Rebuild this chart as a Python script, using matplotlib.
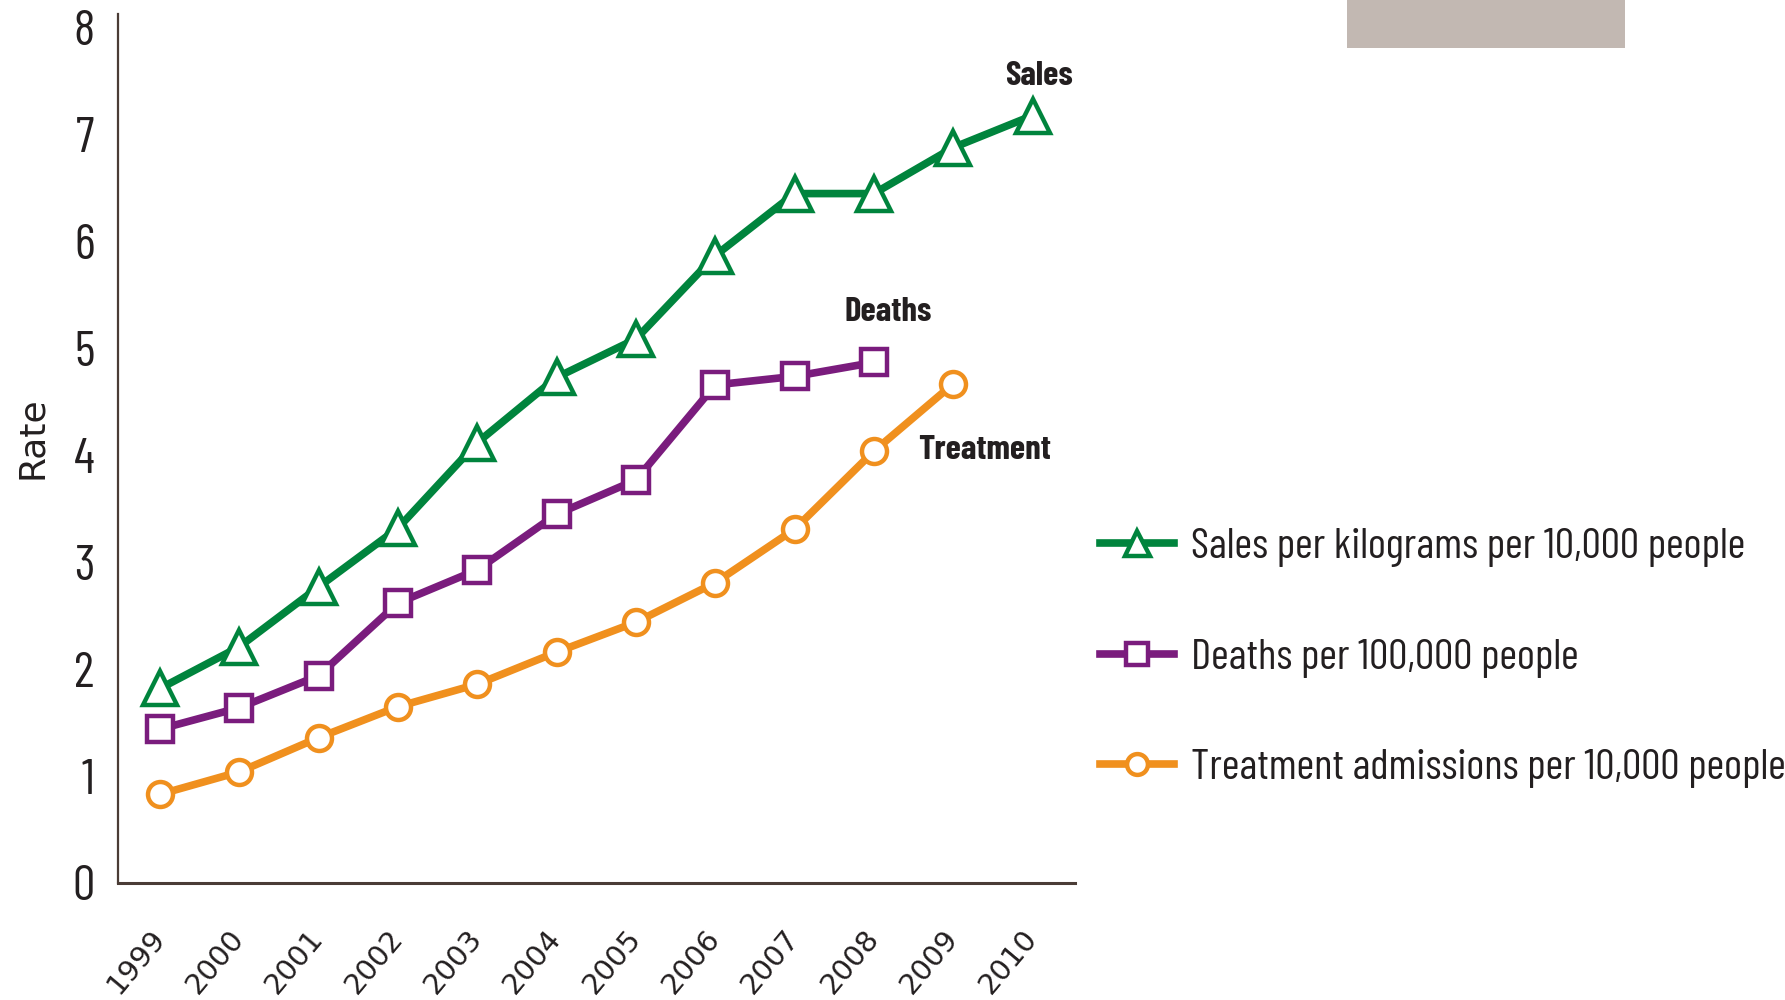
import matplotlib
matplotlib.use("Agg")
import matplotlib.pyplot as plt
from matplotlib import font_manager as fm
from matplotlib.patches import Rectangle
from matplotlib.lines import Line2D

# data
years = [1999, 2000, 2001, 2002, 2003, 2004, 2005, 2006, 2007, 2008, 2009, 2010]
sales = [1.82, 2.21, 2.77, 3.32, 4.12, 4.73, 5.09, 5.87, 6.45, 6.45, 6.88, 7.18]
death_years = years[:10]
deaths = [1.44, 1.64, 1.94, 2.62, 2.93, 3.45, 3.77, 4.66, 4.74, 4.87]
treat_years = years[:11]
treatment = [0.83, 1.04, 1.36, 1.65, 1.86, 2.16, 2.44, 2.81, 3.31, 4.04, 4.67]
yticks = [0, 1, 2, 3, 4, 5, 6, 7, 8]
legend_labels = ["Sales per kilograms per 10,000 people",
                 "Deaths per 100,000 people",
                 "Treatment admissions per 10,000 people"]

GREEN = "#00843d"
PURPLE = "#7a1c7d"
ORANGE = "#f0901e"
DARK = "#231f20"
SPINE = "#4a3c36"


def pick(families):
    for f in families:
        try:
            fm.findfont(fm.FontProperties(family=f), fallback_to_default=False)
            return f
        except ValueError:
            pass
    return None


# the original uses a condensed face; fall back to Liberation Sans, a bit smaller
cond = pick(["Barlow Condensed", "Archivo Narrow", "Asap Condensed"])
if cond:
    narrow = [cond, "DejaVu Sans"]
    k = 1.0
else:
    narrow = ["Liberation Sans", "DejaVu Sans"]
    k = 0.73

fig = plt.figure(figsize=(17.85, 10), dpi=100)
ax = fig.add_axes([0.0661, 0.117, 0.602 - 0.0661, 0.986 - 0.117])

lw = 5.5
mew = 3.2
ax.plot(years, sales, color=GREEN, lw=lw, marker="^", ms=25,
        mfc="white", mec=GREEN, mew=mew)
ax.plot(death_years, deaths, color=PURPLE, lw=lw, marker="s", ms=19,
        mfc="white", mec=PURPLE, mew=mew)
ax.plot(treat_years, treatment, color=ORANGE, lw=lw, marker="o", ms=18,
        mfc="white", mec=ORANGE, mew=mew)

# inline series labels
for x, y, s in [(2010.08, 7.55, "Sales"), (2008.18, 5.34, "Deaths"),
                (2009.40, 4.05, "Treatment")]:
    ax.text(x, y, s, ha="center", va="center", fontsize=25 * k,
            fontweight="bold", color=DARK, family=narrow)

ax.set_xlim(1998.47, 2010.53)
ax.set_ylim(0, 8.13)
ax.set_yticks(yticks)
ax.set_yticklabels([str(v) for v in yticks], family=narrow, fontsize=36 * k, color=DARK)
ax.set_xticks(years)
ax.set_xticklabels([str(y) for y in years], rotation=50, ha="right", va="center",
                   rotation_mode="anchor", fontsize=21, color=DARK)
ax.tick_params(axis="both", length=0)
ax.tick_params(axis="y", pad=17)
ax.tick_params(axis="x", pad=36)

ax.set_ylabel("Rate", fontsize=26, color=DARK, va="center")
ax.yaxis.set_label_coords(-0.09, 0.512)

for side in ["top", "right"]:
    ax.spines[side].set_visible(False)
ax.spines["left"].set_color(SPINE)
ax.spines["left"].set_linewidth(1.6)
ax.spines["bottom"].set_color(SPINE)
ax.spines["bottom"].set_linewidth(2.2)

# legend
handles = [
    Line2D([], [], color=GREEN, lw=lw, marker="^", ms=18, mfc="white", mec=GREEN, mew=mew),
    Line2D([], [], color=PURPLE, lw=lw, marker="s", ms=16, mfc="white", mec=PURPLE, mew=mew),
    Line2D([], [], color=ORANGE, lw=lw, marker="o", ms=15, mfc="white", mec=ORANGE, mew=mew),
]
fig.legend(handles, legend_labels, loc="upper left", bbox_to_anchor=(0.616, 0.472),
           frameon=False, prop={"family": narrow, "size": 31 * k},
           handlelength=1.73 / k, handletextpad=0.40 / k, labelspacing=1.66,
           labelcolor=DARK, borderaxespad=0, borderpad=0)

# grey block at top
fig.patches.append(Rectangle((1347 / 1785, 1 - 48 / 1000), (1625 - 1347) / 1785, 48 / 1000,
                             transform=fig.transFigure, facecolor="#c2b8b2",
                             edgecolor="none"))

fig.savefig("out.png", dpi=100, facecolor="white")
